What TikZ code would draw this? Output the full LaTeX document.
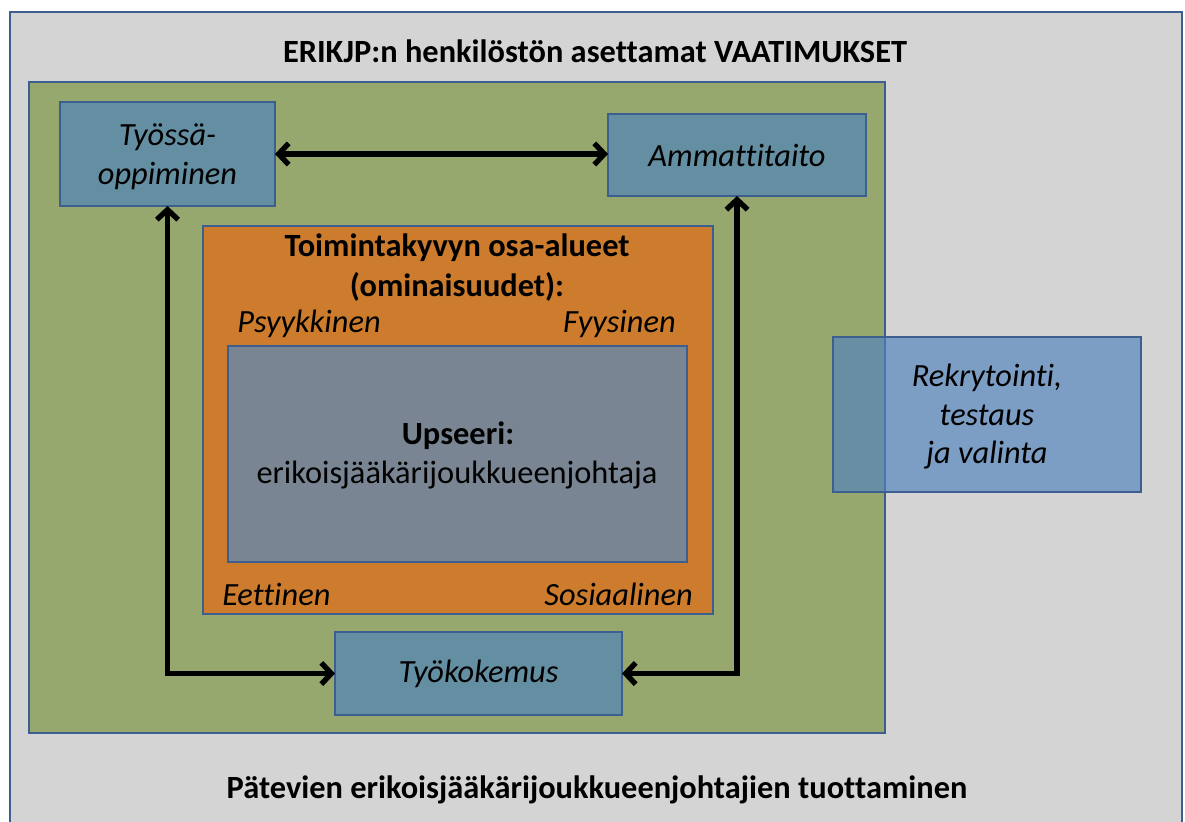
\documentclass[tikz,border=0pt]{standalone}
\usepackage{fontspec}
\setmainfont{Carlito}[Ligatures=NoCommon]
\usetikzlibrary{arrows.meta}
\definecolor{bggray}{HTML}{D4D4D4}
\definecolor{bordblue}{HTML}{3D5F8F}
\definecolor{boxgreen}{HTML}{96A86E}
\definecolor{boxblue}{HTML}{648EA2}
\definecolor{boxorange}{HTML}{CC7C2C}
\definecolor{boxgray}{HTML}{7A8593}
\definecolor{rekblue}{HTML}{4F81BD}
\newcommand{\myfs}{\fontsize{24.3}{29}\selectfont}
\tikzset{
  frm/.style={draw=bordblue, line width=2pt, inner sep=0pt, outer sep=0pt},
  bluebox/.style={frm, fill=boxblue, font=\myfs\itshape, align=center},
  lbl/.style={inner sep=0pt, font=\myfs},
  blbl/.style={inner sep=0pt, font=\myfs\bfseries},
  ilbl/.style={inner sep=0pt, font=\myfs\itshape},
  conn/.style={line width=4pt, {Straight Barb[length=7.5pt,width=16pt]}-{Straight Barb[length=7.5pt,width=16pt]}, line join=miter}
}
\begin{document}
\begin{tikzpicture}[x=0.75pt,y=-0.75pt]
\useasboundingbox (0,0) rectangle (1185,821);
\fill[white] (0,0) rectangle (1185,821);
\node[frm, line width=1.8pt, fill=bggray, minimum width=879pt, minimum height=621pt] (outer) at (596,426) {};
\node[frm, fill=boxgreen, minimum width=642pt, minimum height=488.25pt] (green) at (457,407.5) {};
\node[frm, fill=boxorange, minimum width=382.5pt, minimum height=291pt] (orange) at (458,420) {};
\node[frm, fill=boxgray, minimum width=344.25pt, minimum height=162pt] (core) at (457.5,454) {};
\node[bluebox, minimum width=161.25pt, minimum height=78pt] (tyo) at (167.5,154) {\strut Työssä-\\oppiminen};
\node[bluebox, minimum width=193.5pt, minimum height=61.5pt] (amm) at (737,155) {Ammattitaito};
\node[bluebox, minimum width=215.25pt, minimum height=62.25pt] (kok) at (478.5,673.5) {Työkokemus};
\node[frm, fill=rekblue, fill opacity=0.66, text opacity=1, font=\myfs\itshape, align=center, minimum width=231pt, minimum height=116.25pt] (rek) at (987,414.5) {\strut Rekrytointi,\\testaus\\ja valinta};
% texts
\node[blbl, anchor=base] (title) at (595,62) {ERIKJP:n henkilöstön asettamat VAATIMUKSET};
\node[blbl, anchor=base] (bottom) at (597,798) {Pätevien erikoisjääkärijoukkueenjohtajien tuottaminen};
\node[blbl, anchor=base] (oh1) at (457,256) {Toimintakyvyn osa-alueet};
\node[blbl, anchor=base] (oh2) at (457,296) {(ominaisuudet):};
\node[ilbl, anchor=base west] (psy) at (237,332) {Psyykkinen};
\node[ilbl, anchor=base east] (fyy) at (676,332) {Fyysinen};
\node[ilbl, anchor=base west] (eet) at (222,605) {Eettinen};
\node[ilbl, anchor=base east] (sos) at (693,605) {Sosiaalinen};
\node[blbl, anchor=base] (ups) at (458,444) {Upseeri:};
\node[lbl, anchor=base] (erik) at (457,483) {erikoisjääkärijoukkueenjohtaja};
% connectors
\draw[conn] (tyo.east) -- (tyo.east -| amm.west);
\draw[conn] (tyo.south) |- (kok.west);
\draw[conn] (amm.south) |- (kok.east);
\end{tikzpicture}
\end{document}
